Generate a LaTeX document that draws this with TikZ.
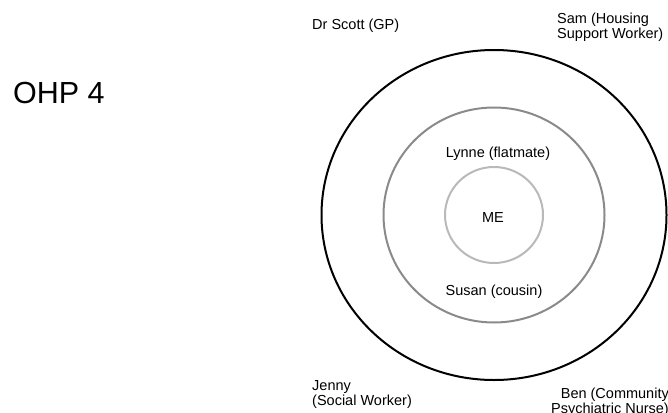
\documentclass[tikz,border=0pt]{standalone}
\usepackage{fontspec}
\setmainfont{Liberation Sans}
\tikzset{
  lbl/.style={inner sep=0pt, font=\fontsize{14.5}{15}\selectfont, align=left},
  ring/.style={line width=2pt}
}
\begin{document}
\begin{tikzpicture}[x=1pt,y=-1pt]
\useasboundingbox (0,0) rectangle (668,412);
\coordinate (c) at (494,215);
\draw[ring, black] (c) ellipse [x radius=172.5pt, y radius=165pt];
\draw[ring, color={rgb,255:red,138;green,138;blue,138}] (c) ellipse [x radius=110.5pt, y radius=107.5pt];
\draw[ring, color={rgb,255:red,185;green,185;blue,185}] (c) ellipse [x radius=49pt, y radius=48pt];
\node[inner sep=0pt, anchor=base west, font=\fontsize{30.5}{32}\selectfont] (ohp) at (13,103) {OHP 4};
\node[lbl, anchor=base west] (scott) at (312,30) {Dr Scott (GP)};
\node[lbl, anchor=base west] (sam) at (557,38) {Sam (Housing\\Support Worker)};
\node[lbl, anchor=base west] (jenny) at (312,405) {Jenny\\(Social Worker)};
\node[lbl, anchor=base east, align=right] (ben) at (669,413) {Ben (Community\\Psychiatric Nurse)};
\node[lbl, anchor=base] (lynne) at (498,157) {Lynne (flatmate)};
\node[lbl, anchor=base] (susan) at (494,295) {Susan (cousin)};
\node[lbl, anchor=base] (me) at (493,222) {ME};
\end{tikzpicture}
\end{document}
